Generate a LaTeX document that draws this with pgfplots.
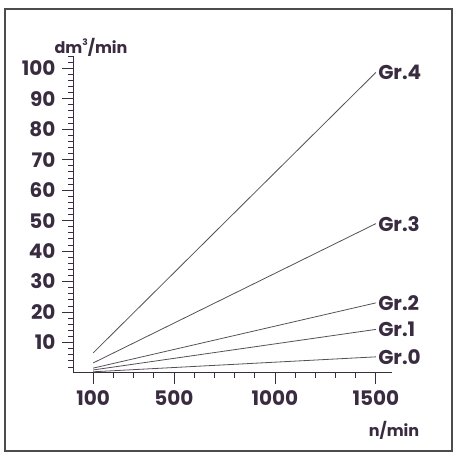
\documentclass[border=0pt]{standalone}
\usepackage{pgfplots}
\pgfplotsset{compat=1.18}
\usepackage{fontspec}
\setmainfont{Poppins}
\definecolor{ink}{RGB}{58,44,64}
\definecolor{linegray}{RGB}{85,80,88}

\begin{document}
\begin{tikzpicture}[x=1pt,y=1pt]
\path (0,0) rectangle (455,457);
\draw[line width=1.4pt, color=black!70] (5,6) rectangle (452,448);
\begin{axis}[
  at={(73pt,84pt)}, anchor=south west,
  scale only axis, width=319pt, height=317pt,
  xmin=0, xmax=1580, ymin=0, ymax=104,
  axis x line*=bottom, axis y line*=left,
  axis line style={-, line width=1pt, color=ink},
  xtick={100,500,1000,1500},
  minor xtick={200,300,400,600,700,800,900,1100,1200,1300,1400},
  ytick={10,20,...,100},
  minor ytick={2,4,...,104},
  tick align=outside,
  major tick length=11pt, minor tick length=5pt,
  tick style={line width=0.8pt, color=ink},
  ticklabel style={font=\fontsize{20}{24}\selectfont\bfseries, text=ink},
  xticklabel style={yshift=-3pt},
  yticklabel style={xshift=-3pt},
  /pgf/number format/assume math mode=true,
  /pgf/number format/1000 sep={},
  clip=false,
]
\addplot[linegray, line width=0.8pt] coordinates {(100,6.6) (1500,98.6)}
  node[pos=1, anchor=west, inner sep=2pt, text=ink, font=\fontsize{20}{24}\selectfont\bfseries] {Gr.4};
\addplot[linegray, line width=0.8pt] coordinates {(100,3.3) (1500,49)}
  node[pos=1, anchor=west, inner sep=2pt, text=ink, font=\fontsize{20}{24}\selectfont\bfseries] {Gr.3};
\addplot[linegray, line width=0.8pt] coordinates {(100,1.6) (1500,23)}
  node[pos=1, anchor=west, inner sep=2pt, text=ink, font=\fontsize{20}{24}\selectfont\bfseries] {Gr.2};
\addplot[linegray, line width=0.8pt] coordinates {(100,1.0) (1500,14.3)}
  node[pos=1, anchor=west, inner sep=2pt, text=ink, font=\fontsize{20}{24}\selectfont\bfseries] {Gr.1};
\addplot[linegray, line width=0.8pt] coordinates {(100,0.4) (1500,5.3)}
  node[pos=1, anchor=west, inner sep=2pt, text=ink, font=\fontsize{20}{24}\selectfont\bfseries] {Gr.0};
\end{axis}
\node[text=ink, font=\fontsize{16}{20}\selectfont\bfseries] at (91,410) {dm\raisebox{0.9ex}{\fontsize{9}{10}\selectfont 3}/min};
\node[text=ink, font=\fontsize{16}{20}\selectfont\bfseries] at (394,27) {n/min};
\end{tikzpicture}
\end{document}
